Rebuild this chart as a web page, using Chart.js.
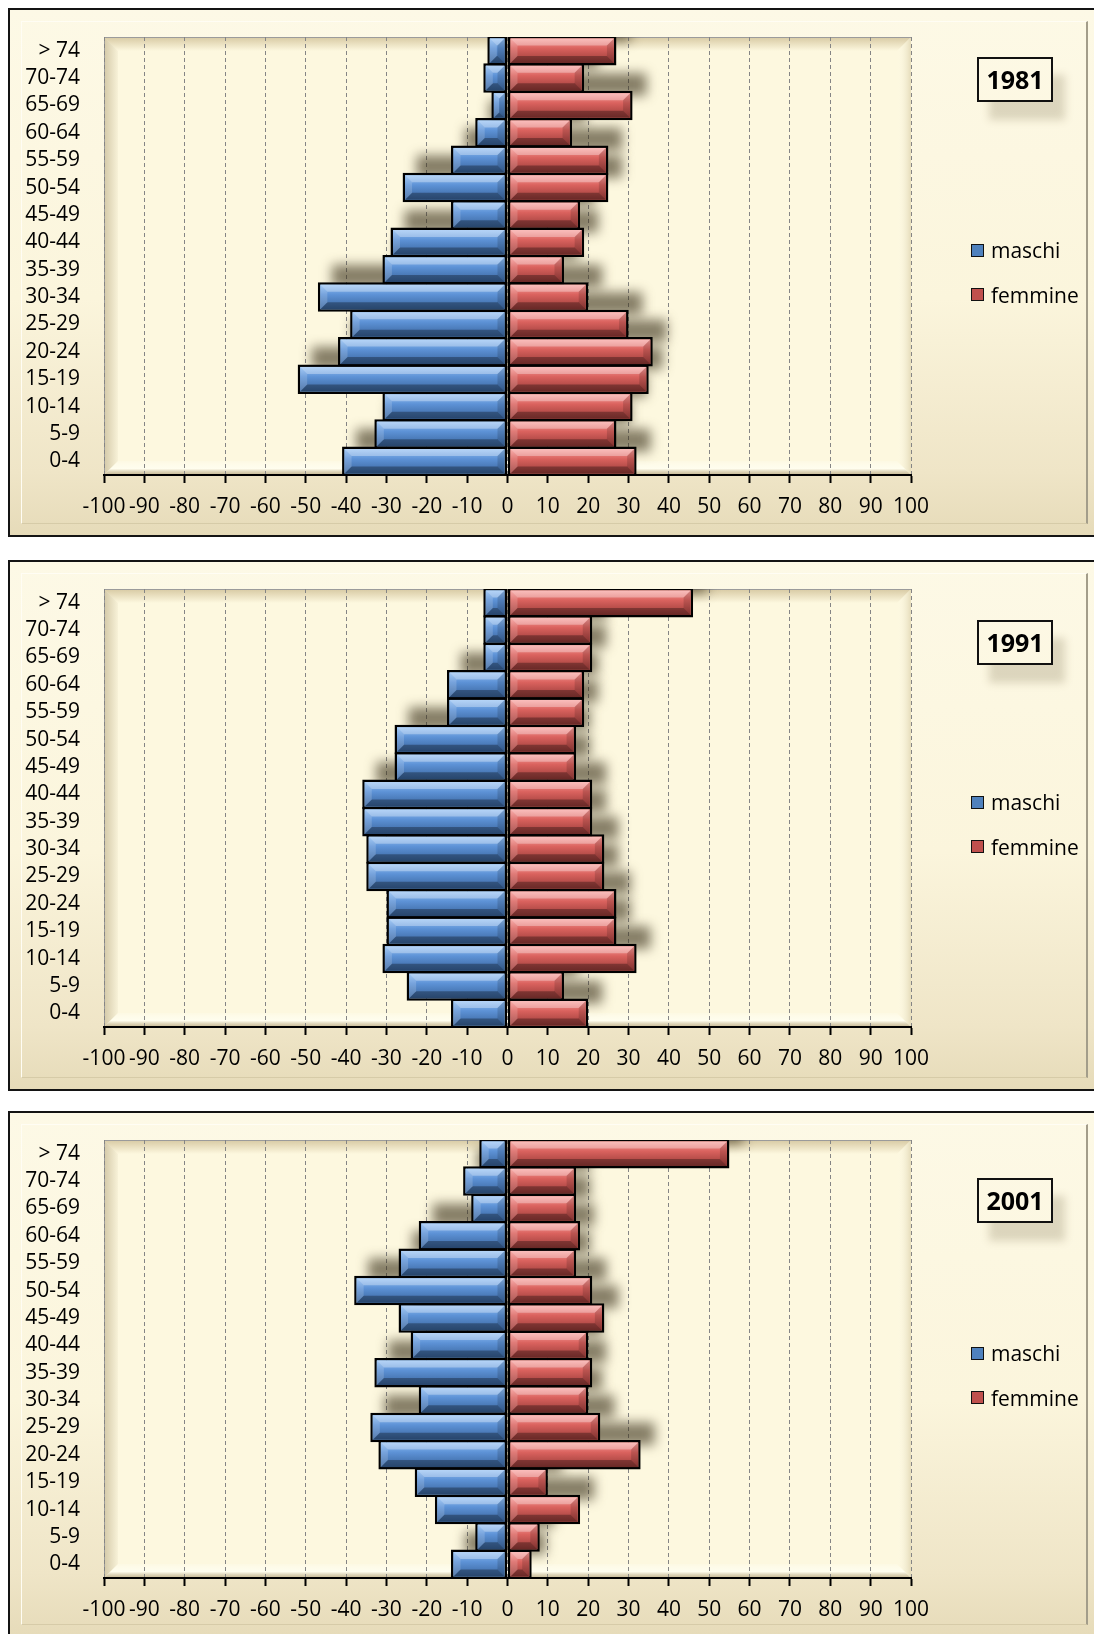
<!DOCTYPE html>
<html lang="it">
<head>
<meta charset="utf-8">
<title>Piramide delle età 1981 - 1991 - 2001</title>
<script src="https://cdn.jsdelivr.net/npm/chart.js@4.4.1/dist/chart.umd.min.js"></script>
<style>
  html, body { margin: 0; padding: 0; background: #fff; }
  body { width: 1094px; height: 1634px; overflow: hidden; position: relative; font-family: "Open Sans", sans-serif; color: #000; }
  .panel { position: absolute; left: 8px; width: 1110px; }
  .frame {
    position: absolute; inset: 0; box-sizing: border-box;
    border: 2px solid #141414;
    background: linear-gradient(180deg, #fdf9e6 0%, #fbf5dc 55%, #efe5c7 88%, #e6dbb9 100%);
  }
  .inner {
    position: absolute; left: 13px; top: 13px; width: 1067px; bottom: 13px; box-sizing: border-box;
    border-top: 1px solid #fffdf4; border-left: 1px solid #fffdf4;
    border-right: 2px solid #a39d8a; border-bottom: 1px solid #d6cba8;
  }
  canvas { position: absolute; left: 0; top: 0; }
  .year {
    position: absolute; left: 969px; width: 76px; height: 45px; box-sizing: border-box;
    border: 2px solid #111; font-weight: 700; font-size: 25px; line-height: 41px; text-align: center;
    box-shadow: 12px 18px 8px rgba(110, 95, 60, 0.22);
  }
  .legend { position: absolute; left: 963px; top: 228px; font-size: 21px; }
  .legend div { display: flex; align-items: center; height: 28px; margin-bottom: 16.5px; }
  .legend i { display: block; width: 13px; height: 13px; box-sizing: border-box; border: 1.5px solid #111; margin-right: 7px; }
</style>
</head>
<body>

<div class="panel" style="top:8px;height:529px">
  <div class="frame"></div><div class="inner"></div>
  <canvas id="chart1981" width="1086" height="529"></canvas>
  <div class="year" style="top:49px">1981</div>
  <div class="legend">
    <div><i style="background:#4f81bd"></i>maschi</div>
    <div><i style="background:#c0504d"></i>femmine</div>
  </div>
</div>

<div class="panel" style="top:560px;height:531px">
  <div class="frame"></div><div class="inner"></div>
  <canvas id="chart1991" width="1086" height="529"></canvas>
  <div class="year" style="top:60px">1991</div>
  <div class="legend">
    <div><i style="background:#4f81bd"></i>maschi</div>
    <div><i style="background:#c0504d"></i>femmine</div>
  </div>
</div>

<div class="panel" style="top:1111px;height:527px">
  <div class="frame"></div><div class="inner"></div>
  <canvas id="chart2001" width="1086" height="529"></canvas>
  <div class="year" style="top:67px">2001</div>
  <div class="legend">
    <div><i style="background:#4f81bd"></i>maschi</div>
    <div><i style="background:#c0504d"></i>femmine</div>
  </div>
</div>

<script>
// Age classes, bottom to top
const ageGroups = ['0-4', '5-9', '10-14', '15-19', '20-24', '25-29', '30-34', '35-39',
                   '40-44', '45-49', '50-54', '55-59', '60-64', '65-69', '70-74', '> 74'];
const xTickValues = [-100, -90, -80, -70, -60, -50, -40, -30, -20, -10, 0,
                     10, 20, 30, 40, 50, 60, 70, 80, 90, 100];

// Males are negative so they grow to the left
const maschi1981  = [-41, -33, -31, -52, -42, -39, -47, -31, -29, -14, -26, -14, -8, -4, -6, -5];
const femmine1981 = [32, 27, 31, 35, 36, 30, 20, 14, 19, 18, 25, 25, 16, 31, 19, 27];

const maschi1991  = [-14, -25, -31, -30, -30, -35, -35, -36, -36, -28, -28, -15, -15, -6, -6, -6];
const femmine1991 = [20, 14, 32, 27, 27, 24, 24, 21, 21, 17, 17, 19, 19, 21, 21, 46];

const maschi2001  = [-14, -8, -18, -23, -32, -34, -22, -33, -24, -27, -38, -27, -22, -9, -11, -7];
const femmine2001 = [6, 8, 18, 10, 33, 23, 20, 21, 20, 24, 21, 17, 18, 17, 17, 55];

const FONT = "'Open Sans', sans-serif";
const BORDER = 2.5;

// shading for the bevelled bars, one per dataset
const tones = [
  { hi: '#93c0f3', face: '#5d92d6', lo: '#39649c' },
  { hi: '#f89f9c', face: '#da625e', lo: '#983b38' }
];

function poly(ctx, pts, fill) {
  ctx.beginPath();
  ctx.moveTo(pts[0][0], pts[0][1]);
  for (let i = 1; i < pts.length; i++) ctx.lineTo(pts[i][0], pts[i][1]);
  ctx.closePath();
  ctx.fillStyle = fill;
  ctx.fill();
}

function barRect(bar) {
  const p = bar.getProps(['x', 'y', 'base', 'height'], true);
  return {
    l: Math.min(p.x, p.base), r: Math.max(p.x, p.base),
    t: p.y - p.height / 2, b: p.y + p.height / 2, h: p.height
  };
}

// cream plot area with a soft bevelled edge
const plotBackground = {
  id: 'plotBackground',
  beforeDraw(chart) {
    const { ctx, chartArea: a } = chart;
    const L = a.left, R = a.right, T = a.top, B = a.bottom, k = 14;
    ctx.save();
    ctx.fillStyle = '#fdf8df';
    ctx.fillRect(L, T, R - L, B - T);

    let g = ctx.createLinearGradient(0, T, 0, T + k);
    g.addColorStop(0, 'rgba(170,145,90,0.45)');
    g.addColorStop(1, 'rgba(170,145,90,0)');
    poly(ctx, [[L, T], [R, T], [R - k, T + k], [L + k, T + k]], g);

    g = ctx.createLinearGradient(L, 0, L + k, 0);
    g.addColorStop(0, 'rgba(150,130,85,0.4)');
    g.addColorStop(1, 'rgba(150,130,85,0.05)');
    poly(ctx, [[L, T], [L + k, T + k], [L + k, B - k], [L, B]], g);

    g = ctx.createLinearGradient(R - k, 0, R, 0);
    g.addColorStop(0, 'rgba(255,255,245,0)');
    g.addColorStop(1, 'rgba(200,185,140,0.45)');
    poly(ctx, [[R, T], [R - k, T + k], [R - k, B - k], [R, B]], g);

    g = ctx.createLinearGradient(0, B - k, 0, B);
    g.addColorStop(0, 'rgba(255,255,245,0.2)');
    g.addColorStop(0.55, 'rgba(255,254,240,0.9)');
    g.addColorStop(1, 'rgba(165,145,100,0.6)');
    poly(ctx, [[L, B], [R, B], [R - k, B - k], [L + k, B - k]], g);

    ctx.strokeStyle = '#9b9b9b';
    ctx.lineWidth = 1;
    ctx.beginPath();
    ctx.moveTo(L + 0.5, B);
    ctx.lineTo(L + 0.5, T + 0.5);
    ctx.lineTo(R, T + 0.5);
    ctx.stroke();
    ctx.restore();
  }
};

// blurred shadow thrown up and to the right of every bar
const barShadow = {
  id: 'barShadow',
  beforeDatasetsDraw(chart) {
    const { ctx, chartArea: a } = chart;
    ctx.save();
    ctx.beginPath();
    ctx.rect(a.left, a.top, a.right - a.left, a.bottom - a.top);
    ctx.clip();
    ctx.filter = 'blur(6px)';
    ctx.fillStyle = 'rgba(60,50,28,0.62)';
    chart.data.datasets.forEach((ds, i) => {
      chart.getDatasetMeta(i).data.forEach(bar => {
        const r = barRect(bar);
        ctx.fillRect(r.l + 14, r.t + r.h * 0.12 - 21, r.r - r.l, r.h * 0.76);
      });
    });
    ctx.restore();
  }
};

// bevel faces painted inside the black outline
const barBevel = {
  id: 'barBevel',
  afterDatasetsDraw(chart) {
    const ctx = chart.ctx;
    ctx.save();
    chart.data.datasets.forEach((ds, i) => {
      const tone = tones[i];
      chart.getDatasetMeta(i).data.forEach(bar => {
        const r = barRect(bar);
        const l = r.l + BORDER, rr = r.r - BORDER, t = r.t + BORDER, b = r.b - BORDER;
        if (rr - l < 1) return;
        const g = ctx.createLinearGradient(0, t, 0, b);
        g.addColorStop(0, tone.hi);
        g.addColorStop(0.4, tone.face);
        g.addColorStop(1, tone.lo);
        ctx.fillStyle = g;
        ctx.fillRect(l, t, rr - l, b - t);
        const k = Math.min(7, (b - t) / 3, (rr - l) / 2);
        poly(ctx, [[l, t], [rr, t], [rr - k, t + k], [l + k, t + k]], 'rgba(255,255,255,0.32)');
        poly(ctx, [[l, b], [rr, b], [rr - k, b - k], [l + k, b - k]], 'rgba(0,0,0,0.3)');
        poly(ctx, [[l, t], [l + k, t + k], [l + k, b - k], [l, b]], 'rgba(255,255,255,0.16)');
        poly(ctx, [[rr, t], [rr - k, t + k], [rr - k, b - k], [rr, b]], 'rgba(0,0,0,0.14)');
      });
    });
    ctx.restore();
  }
};

function makePyramid(id, maschi, femmine) {
  return new Chart(document.getElementById(id), {
    type: 'bar',
    data: {
      labels: ageGroups,
      datasets: [
        { label: 'maschi', data: maschi, backgroundColor: '#4f81bd' },
        { label: 'femmine', data: femmine, backgroundColor: '#c0504d' }
      ]
    },
    options: {
      indexAxis: 'y',
      responsive: false,
      animation: false,
      layout: { padding: { top: 29, right: 183, left: 0, bottom: 0 } },
      datasets: {
        bar: {
          categoryPercentage: 1,
          barPercentage: 1.08,
          borderColor: '#000',
          borderWidth: BORDER,
          borderSkipped: false
        }
      },
      plugins: { legend: { display: false }, tooltip: { enabled: false } },
      scales: {
        x: {
          stacked: true,
          min: -100,
          max: 100,
          afterBuildTicks(scale) { scale.ticks = xTickValues.map(v => ({ value: v })); },
          afterFit(scale) { scale.height = 62; },
          ticks: {
            autoSkip: false, maxRotation: 0, minRotation: 0, padding: 11,
            color: '#000', font: { family: FONT, size: 21 },
            callback: v => String(v)
          },
          grid: {
            color: '#858585', lineWidth: 1,
            tickLength: 8, tickColor: '#000', tickWidth: 2, tickBorderDash: []
          },
          border: { color: '#000', width: 2, dash: [4, 3] }
        },
        y: {
          stacked: true,
          reverse: true,
          afterFit(scale) {
            scale.width = 96;
            scale.paddingTop = 0;
            scale.paddingBottom = 0;
          },
          grid: { display: false },
          border: { display: false },
          ticks: { autoSkip: false, padding: 16, color: '#000', font: { family: FONT, size: 21 } }
        }
      }
    },
    plugins: [plotBackground, barShadow, barBevel]
  });
}

makePyramid('chart1981', maschi1981, femmine1981);
makePyramid('chart1991', maschi1991, femmine1991);
makePyramid('chart2001', maschi2001, femmine2001);
</script>
</body>
</html>
